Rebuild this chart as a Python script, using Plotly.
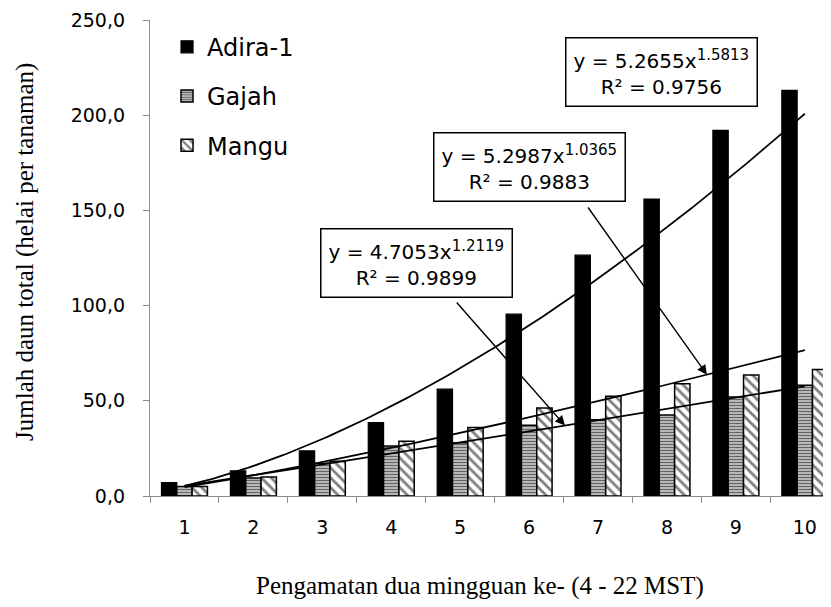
import numpy as np
import plotly.graph_objects as go

# ---- data ----
categories = [1, 2, 3, 4, 5, 6, 7, 8, 9, 10]
adira = [7.0, 13.2, 23.7, 38.6, 56.1, 95.5, 126.5, 156.0, 192.0, 213.0]
gajah = [5.0, 9.4, 17.2, 26.2, 28.0, 37.1, 40.0, 42.5, 52.0, 58.2]
mangu = [5.0, 10.0, 18.3, 28.8, 36.0, 46.2, 52.4, 59.0, 63.5, 66.5]
y_ticks = [0, 50, 100, 150, 200, 250]

# power trend coefficients shown on the chart (a, b, R^2) for y = a*x^b
fit_adira = (5.2655, 1.5813, 0.9756)
fit_gajah = (5.2987, 1.0365, 0.9883)
fit_mangu = (4.7053, 1.2119, 0.9899)

TICK_FONT = "DejaVu Sans"
SERIF = "Liberation Serif"
AXIS_GRAY = "#8c8c8c"

fig = go.Figure()

fig.add_trace(go.Bar(
    x=categories, y=adira, name="Adira-1", legendgroup="a",
    marker=dict(color="black", line=dict(color="black", width=1.2)),
))
fig.add_trace(go.Bar(
    x=categories, y=gajah, name="Gajah", legendgroup="g",
    marker=dict(color="white", line=dict(color="black", width=1.5),
                pattern=dict(shape="-", fgcolor="black", bgcolor="#c8c8c8",
                             size=3, solidity=0.45)),
))
fig.add_trace(go.Bar(
    x=categories, y=mangu, name="Mangu", legendgroup="m",
    marker=dict(color="white", line=dict(color="black", width=1.5),
                pattern=dict(shape="\\", fgcolor="black", bgcolor="white",
                             size=7, solidity=0.4)),
))

def power(fit, x):
    a, b, _ = fit
    return a * np.power(x, b)

xs = np.linspace(categories[0], categories[-1], 200)
for fit in (fit_adira, fit_gajah, fit_mangu):
    fig.add_trace(go.Scatter(x=xs, y=power(fit, xs), mode="lines",
                             line=dict(color="black", width=1.8),
                             showlegend=False, hoverinfo="skip"))

def eq_text(fit):
    a, b, r2 = fit
    return (f"y = {a:.4f}x<sup><span style='font-size:15px'>{b:.4f}</span></sup>"
            f"<br>R² = {r2:.4f}")

box_font = dict(family=TICK_FONT, size=20, color="black")
boxes = [
    (fit_adira, 0.7511, 0.8918),
    (fit_gajah, 0.5573, 0.691),
    (fit_mangu, 0.392, 0.4895),
]
annotations = []
for fit, bx, by in boxes:
    annotations.append(dict(
        text=eq_text(fit), xref="paper", yref="paper", x=bx, y=by,
        xanchor="center", yanchor="middle", showarrow=False,
        font=box_font, bordercolor="black", borderwidth=1.5,
        borderpad=7, bgcolor="white", align="center"))

# arrows (tail near each label box, head on a trend line)
arrows = [
    (6.84, 152.3, 8.58, fit_mangu),
    (4.93, 102.4, 6.52, fit_gajah),
]
for tx, ty, hx, fit in arrows:
    annotations.append(dict(
        text="", x=hx, y=float(power(fit, hx)), xref="x", yref="y",
        ax=tx, ay=ty, axref="x", ayref="y", showarrow=True,
        arrowhead=2, arrowsize=1.4, arrowwidth=1.4, arrowcolor="black"))

# axis titles
annotations.append(dict(
    text="Jumlah daun total (helai per tanaman)", xref="paper", yref="paper",
    x=-0.1836, y=0.5126, textangle=-90, showarrow=False,
    xanchor="center", yanchor="middle",
    font=dict(family=SERIF, size=25, color="black")))
annotations.append(dict(
    text="Pengamatan dua mingguan ke- (4 - 22 MST)", xref="paper", yref="paper",
    x=0.4846, y=-0.19, showarrow=False, xanchor="center", yanchor="middle",
    font=dict(family=SERIF, size=25, color="black")))

fig.update_layout(
    width=823, height=599,
    margin=dict(l=142, r=0, t=12, b=111),
    paper_bgcolor="white", plot_bgcolor="white",
    barmode="group", bargap=0.333, bargroupgap=0,
    separators=",.",
    showlegend=True,
    legend=dict(x=0.025, y=0.99, xanchor="left", yanchor="top",
                font=dict(family=TICK_FONT, size=24, color="black"),
                tracegroupgap=15, bgcolor="rgba(0,0,0,0)"),
    annotations=annotations,
    xaxis=dict(range=[0.5, 10.38], tickmode="array", tickvals=categories,
               ticktext=[str(c) for c in categories], ticks="",
               showline=True, linecolor=AXIS_GRAY, linewidth=1.3,
               showgrid=False, zeroline=False,
               tickfont=dict(family=TICK_FONT, size=19, color="black"),
               ticklabelstandoff=14,
               minor=dict(tickmode="array",
                          tickvals=[c - 0.5 for c in categories] + [categories[-1] + 0.5],
                          ticks="outside", ticklen=6, tickcolor=AXIS_GRAY,
                          tickwidth=1.3, showgrid=False)),
    yaxis=dict(range=[0, 250], tickmode="array", tickvals=y_ticks,
               tickformat=".1f", ticks="outside", ticklen=6,
               tickcolor=AXIS_GRAY, tickwidth=1.3,
               showline=True, linecolor=AXIS_GRAY, linewidth=1.3,
               showgrid=False, zeroline=False,
               tickfont=dict(family=TICK_FONT, size=19, color="black"),
               ticklabelstandoff=14),
)

fig.write_html("out.html")
